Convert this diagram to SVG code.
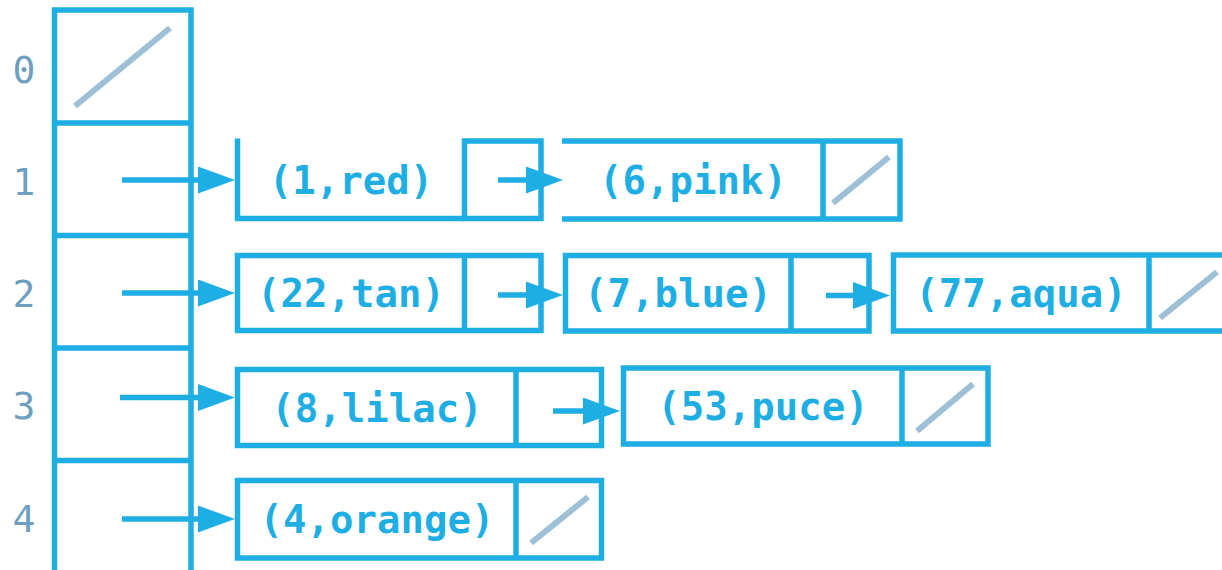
<svg xmlns="http://www.w3.org/2000/svg" width="1222" height="570" viewBox="0 0 1222 570">
<style>
.b{fill:none;stroke:#1eaee4;stroke-width:5.5}
.s{stroke:#9dc0d6;stroke-width:6}
.c{stroke:#1eaee4;stroke-width:5.5;fill:none}
.t{font-family:"DejaVu Sans Mono","Liberation Mono",monospace;font-weight:bold;font-size:39px;fill:#1eaee4;text-anchor:middle}
.i{font-family:"DejaVu Sans Mono","Liberation Mono",monospace;font-size:38px;fill:#6e9fc0;text-anchor:middle}
</style>
<defs>
<marker id="ah" markerUnits="userSpaceOnUse" viewBox="0 0 37 27" refX="2" refY="13.5" markerWidth="37" markerHeight="27" orient="auto">
<path d="M0,0 L37,13.5 L0,27 z" fill="#1eaee4"/>
</marker>
</defs>
<rect width="1222" height="570" fill="#fff"/>
<g id="table">
<path class="b" d="M54.5,570 V10 H191 V570 M54.5,123 H191 M54.5,235.5 H191 M54.5,348 H191 M54.5,460.5 H191"/>
<line class="s" x1="75" y1="106" x2="170" y2="28"/>
<text class="i" x="24" y="83">0</text>
<text class="i" x="24" y="195">1</text>
<text class="i" x="24" y="307">2</text>
<text class="i" x="24" y="419">3</text>
<text class="i" x="24" y="532">4</text>
</g>
<g id="node-1-red">
<path class="b" d="M237.5,138.5 V218.5 H464.5"/>
<rect class="b" x="464.5" y="141" width="76.5" height="77.5"/>
<text class="t" x="351" y="194">(1,red)</text>
</g>
<g id="node-6-pink">
<path class="b" d="M562,141 H900 V219 H562 M823,141 V219"/>
<line class="s" x1="833" y1="203" x2="889" y2="157"/>
<text class="t" x="693" y="194">(6,pink)</text>
</g>
<g id="node-22-tan">
<rect class="b" x="237.5" y="255.5" width="303.5" height="75"/>
<line class="b" x1="464.5" y1="255.5" x2="464.5" y2="330.5"/>
<text class="t" x="351" y="307">(22,tan)</text>
</g>
<g id="node-7-blue">
<rect class="b" x="565.5" y="255.5" width="303.5" height="75.5"/>
<line class="b" x1="791" y1="255.5" x2="791" y2="331"/>
<text class="t" x="678" y="307">(7,blue)</text>
</g>
<g id="node-77-aqua">
<path class="b" d="M1225,255 H893.5 V331 H1225 M1149,255 V331"/>
<line class="s" x1="1160" y1="318" x2="1217" y2="272"/>
<text class="t" x="1021" y="307">(77,aqua)</text>
</g>
<g id="node-8-lilac">
<rect class="b" x="237.5" y="369.5" width="364" height="76"/>
<line class="b" x1="516" y1="369.5" x2="516" y2="445.5"/>
<text class="t" x="377" y="421.5">(8,lilac)</text>
</g>
<g id="node-53-puce">
<rect class="b" x="623.5" y="368" width="364.5" height="76"/>
<line class="b" x1="902" y1="368" x2="902" y2="444"/>
<line class="s" x1="917" y1="431" x2="973" y2="384"/>
<text class="t" x="763" y="420">(53,puce)</text>
</g>
<g id="node-4-orange">
<rect class="b" x="237.5" y="480.5" width="364" height="77.5"/>
<line class="b" x1="516" y1="480.5" x2="516" y2="558"/>
<line class="s" x1="531" y1="543" x2="588" y2="497"/>
<text class="t" x="377" y="533">(4,orange)</text>
</g>
<g id="connectors">
<line class="c" x1="122" y1="180" x2="200" y2="180" marker-end="url(#ah)"/>
<line class="c" x1="122" y1="293" x2="200" y2="293" marker-end="url(#ah)"/>
<line class="c" x1="120" y1="397.5" x2="200" y2="397.5" marker-end="url(#ah)"/>
<line class="c" x1="122" y1="519" x2="200" y2="519" marker-end="url(#ah)"/>
<line class="c" x1="498" y1="180" x2="528" y2="180" marker-end="url(#ah)"/>
<line class="c" x1="498" y1="295" x2="528" y2="295" marker-end="url(#ah)"/>
<line class="c" x1="826" y1="295.5" x2="855" y2="295.5" marker-end="url(#ah)"/>
<line class="c" x1="553" y1="411" x2="585" y2="411" marker-end="url(#ah)"/>
</g>
</svg>
